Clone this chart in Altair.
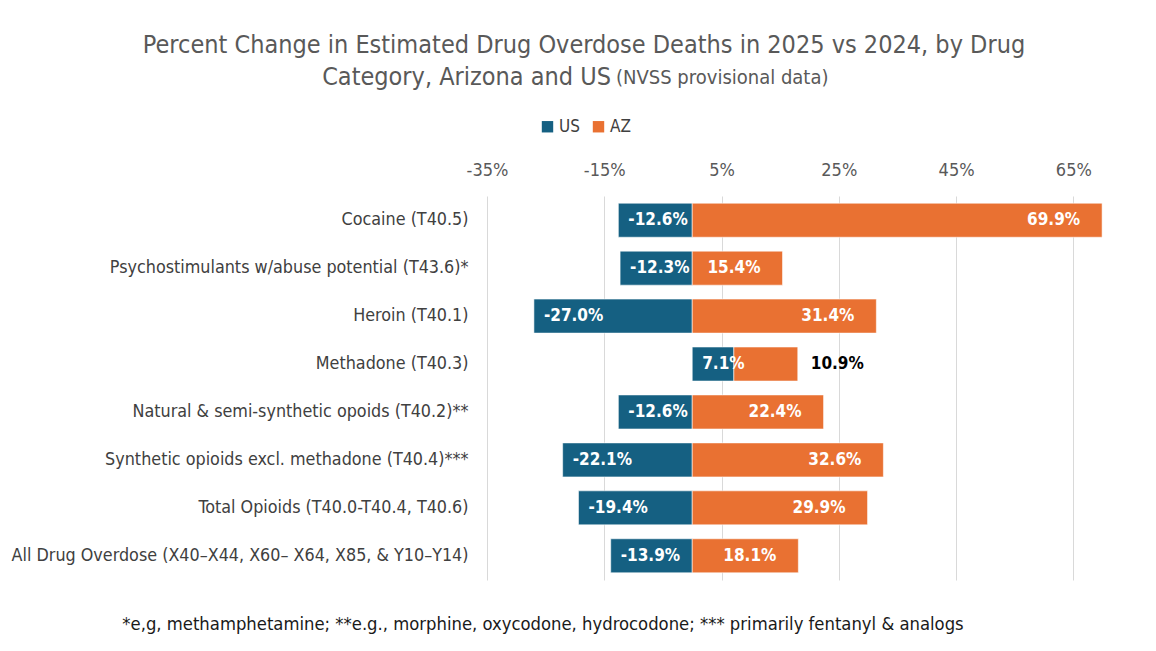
import altair as alt
import pandas as pd

categories = [
    "Cocaine (T40.5)",
    "Psychostimulants w/abuse potential (T43.6)*",
    "Heroin (T40.1)",
    "Methadone (T40.3)",
    "Natural & semi-synthetic opoids (T40.2)**",
    "Synthetic opioids excl. methadone (T40.4)***",
    "Total Opioids (T40.0-T40.4, T40.6)",
    "All Drug Overdose (X40\u2013X44, X60\u2013 X64, X85, & Y10\u2013Y14)",
]
us_values = [-12.6, -12.3, -27.0, 7.1, -12.6, -22.1, -19.4, -13.9]
az_values = [69.9, 15.4, 31.4, 10.9, 22.4, 32.6, 29.9, 18.1]
tick_values = [-35, -15, 5, 25, 45, 65]
series_names = ["US", "AZ"]
series_colors = ["#156082", "#E97132"]

title_line1 = "Percent Change in Estimated Drug Overdose Deaths in 2025 vs 2024, by Drug"
title_line2a = "Category, Arizona and US"
title_line2b = "(NVSS provisional data)"
footnote = "*e,g, methamphetamine;  **e.g., morphine, oxycodone, hydrocodone; *** primarily fentanyl & analogs"

FONT = "DejaVu Sans Condensed, Liberation Sans, sans-serif"

rows = []
for c, u, a in zip(categories, us_values, az_values):
    # stacked like Excel: negatives left of zero, positives stack to the right
    rows.append(dict(category=c, series="US", start=0.0, end=u, value=u,
                     label=f"{u:.1f}%"))
    base = max(u, 0.0)
    rows.append(dict(category=c, series="AZ", start=base, end=base + a, value=a,
                     label=f"{a:.1f}%"))
df = pd.DataFrame(rows)

xscale = alt.Scale(domain=[-35, 75], nice=False, zero=False)
yscale = alt.Scale(domain=categories, paddingInner=0.29, paddingOuter=0.15)

base = alt.Chart(df)

bars = base.mark_bar(stroke="white", strokeWidth=0.8, strokeOpacity=0.7).encode(
    y=alt.Y("category:N", scale=yscale, sort=categories,
            axis=alt.Axis(title=None, labelFont=FONT, labelFontSize=17.8,
                          labelColor="#404040", labelPadding=19, ticks=False,
                          domain=False, labelLimit=600)),
    x=alt.X("start:Q", scale=xscale,
            axis=alt.Axis(orient="top", values=tick_values, title=None,
                          labelExpr="datum.value + '%'", labelFont=FONT,
                          labelFontSize=18, labelColor="#595959", labelPadding=17,
                          labelFlush=False, labelBound=False, labelOverlap=False,
                          ticks=False, domain=False, grid=True,
                          gridColor="#d9d9d9", gridWidth=1)),
    x2="end:Q",
    color=alt.Color("series:N",
                    scale=alt.Scale(domain=series_names, range=series_colors),
                    legend=alt.Legend(title=None, orient="none", direction="horizontal",
                                      legendX=52, legendY=-78, symbolType="square",
                                      symbolSize=130, symbolStrokeWidth=0,
                                      labelFont=FONT, labelFontSize=17,
                                      labelColor="#404040", columnPadding=10,
                                      labelOffset=3)),
)

# US labels: inside, anchored at the outer (left) end for negatives, at base for positives
us_labels = base.transform_filter("datum.series == 'US'").transform_calculate(
    anchor="min(datum.end, 0)"
).mark_text(align="left", baseline="middle", dx=10, font=FONT, fontSize=17,
            fontWeight="bold", color="white").encode(
    y=alt.Y("category:N", scale=yscale, sort=categories),
    x=alt.X("anchor:Q", scale=xscale),
    text="label:N",
)

# AZ labels inside the end, unless stacked on a positive US bar (then outside, black)
az_in = base.transform_filter("datum.series == 'AZ' && datum.start == 0").mark_text(
    align="right", baseline="middle", dx=-22, font=FONT, fontSize=17,
    fontWeight="bold", color="white").encode(
    y=alt.Y("category:N", scale=yscale, sort=categories),
    x=alt.X("end:Q", scale=xscale),
    text="label:N",
)
az_out = base.transform_filter("datum.series == 'AZ' && datum.start > 0").mark_text(
    align="left", baseline="middle", dx=13, font=FONT, fontSize=17,
    fontWeight="bold", color="black").encode(
    y=alt.Y("category:N", scale=yscale, sort=categories),
    x=alt.X("end:Q", scale=xscale),
    text="label:N",
)

title1 = alt.Chart(pd.DataFrame({"t": [title_line1]})).mark_text(
    align="center", baseline="middle", font=FONT, fontSize=25, color="#595959"
).encode(x=alt.value(97), y=alt.value(-151), text="t:N")
title2a = alt.Chart(pd.DataFrame({"t": [title_line2a]})).mark_text(
    align="right", baseline="middle", font=FONT, fontSize=25, color="#595959"
).encode(x=alt.value(124), y=alt.value(-119), text="t:N")
title2b = alt.Chart(pd.DataFrame({"t": [title_line2b]})).mark_text(
    align="left", baseline="middle", font=FONT, fontSize=20, color="#595959"
).encode(x=alt.value(129), y=alt.value(-118), text="t:N")
foot = alt.Chart(pd.DataFrame({"t": [footnote]})).mark_text(
    align="center", baseline="middle", font=FONT, fontSize=18.3, color="#1a1a1a"
).encode(x=alt.value(56), y=alt.value(429), text="t:N")

chart = alt.layer(bars, us_labels, az_in, az_out, title1, title2a, title2b, foot).properties(
    width=645, height=384,
    autosize=alt.AutoSizeParams(type="none"),
    padding={"left": 479, "top": 188, "right": 16, "bottom": 63},
    background="white",
).configure_view(stroke=None)

chart.save("out.html", embed_options={"renderer": "svg", "actions": False})
